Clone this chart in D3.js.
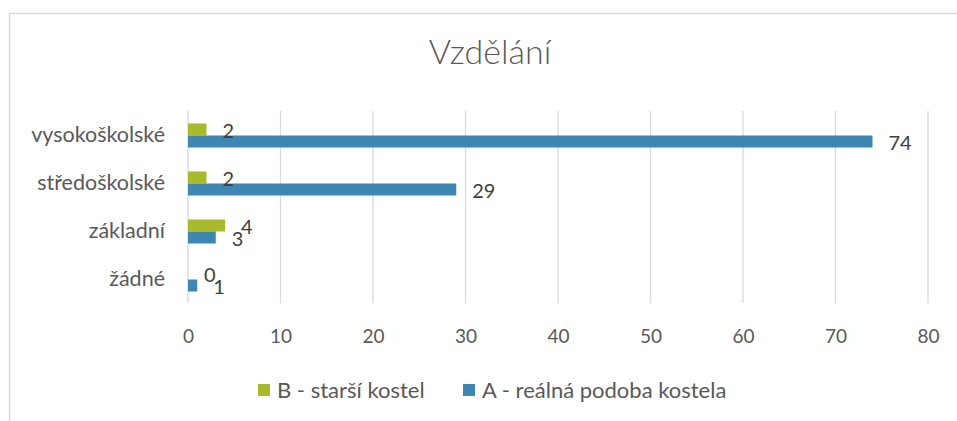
<!DOCTYPE html>
<html>
<head>
<meta charset="utf-8">
<script src="https://cdn.jsdelivr.net/npm/d3@7"></script>
<style>
  body { margin: 0; background: #fff; }
  svg { display: block; font-family: Lato, "Open Sans", sans-serif; }
</style>
</head>
<body>
<div id="chart"></div>
<script>
// categories from top to bottom
const categories = ['vysokoškolské', 'středoškolské', 'základní', 'žádné'];
const seriesNames = ['B - starší kostel', 'A - reálná podoba kostela'];
const valuesB = [2, 2, 4, 0];
const valuesA = [74, 29, 3, 1];
const xTicks = [0, 10, 20, 30, 40, 50, 60, 70, 80];

const colors = { 'B - starší kostel': '#a8b92b', 'A - reálná podoba kostela': '#3f87b3' };
const textColor = '#595959';

const width = 957, height = 421;

const svg = d3.select('#chart').append('svg')
  .attr('width', width)
  .attr('height', height);

// chart border
svg.append('rect')
  .attr('x', 9.5).attr('y', 13.5)
  .attr('width', width + 10).attr('height', height + 10)
  .attr('fill', 'none')
  .attr('stroke', '#d9d9d9')
  .attr('stroke-width', 1.5);

// title
svg.append('text')
  .attr('x', 490).attr('y', 64)
  .attr('text-anchor', 'middle')
  .attr('fill', textColor)
  .style('font-size', '34px')
  .style('font-weight', 300)
  .text('Vzdělání');

const x = d3.scaleLinear().domain([0, 80]).range([188, 928]);
const y = d3.scaleBand().domain(categories).range([111.5, 303.5]).padding(0);
const sub = d3.scaleBand().domain(seriesNames).range([12, 36]).padding(0);

// gridlines
svg.append('g')
  .selectAll('line')
  .data(xTicks)
  .join('line')
    .attr('x1', d => x(d)).attr('x2', d => x(d))
    .attr('y1', 111).attr('y2', 303)
    .attr('stroke', '#d9d9d9')
    .attr('stroke-width', 1.3);

// x tick labels
const xAxis = svg.append('g')
  .attr('transform', 'translate(0,336)')
  .call(d3.axisBottom(x).tickValues(xTicks).tickSize(0).tickPadding(0));
xAxis.select('.domain').remove();
xAxis.selectAll('text')
  .attr('fill', textColor)
  .attr('dy', '0.35em')
  .style('font-size', '19px')
  .style('font-family', 'Lato, "Open Sans", sans-serif');

// category labels
const yAxis = svg.append('g')
  .attr('transform', 'translate(165,0)')
  .call(d3.axisLeft(y).tickSize(0).tickPadding(0));
yAxis.select('.domain').remove();
yAxis.selectAll('text')
  .attr('fill', textColor)
  .style('font-size', '21.5px')
  .style('font-family', 'Lato, "Open Sans", sans-serif');

const rows = categories.map((c, i) => ({ cat: c, vals: [
  { name: seriesNames[0], value: valuesB[i] },
  { name: seriesNames[1], value: valuesA[i] }
]}));

const groups = svg.append('g')
  .selectAll('g')
  .data(rows)
  .join('g')
    .attr('transform', d => `translate(0,${y(d.cat)})`);

groups.selectAll('rect')
  .data(d => d.vals)
  .join('rect')
    .attr('x', x(0))
    .attr('y', d => sub(d.name))
    .attr('width', d => x(d.value) - x(0))
    .attr('height', sub.bandwidth())
    .attr('fill', d => colors[d.name]);

groups.selectAll('text')
  .data(d => d.vals)
  .join('text')
    .attr('x', d => x(d.value) + 16)
    .attr('y', d => sub(d.name) + sub.bandwidth() / 2 + 1)
    .attr('dy', '0.35em')
    .attr('fill', '#404040')
    .style('font-size', '20px')
    .text(d => d.value);

// legend
const legend = svg.append('g').attr('transform', 'translate(258,390)');
const legendX = [0, 205];
seriesNames.forEach((name, i) => {
  const g = legend.append('g').attr('transform', `translate(${legendX[i]},0)`);
  g.append('rect')
    .attr('x', 0).attr('y', -6)
    .attr('width', 12).attr('height', 12)
    .attr('fill', colors[name]);
  g.append('text')
    .attr('x', 19).attr('y', 0)
    .attr('dy', '0.35em')
    .attr('fill', textColor)
    .style('font-size', '22px')
    .text(name);
});
</script>
</body>
</html>
